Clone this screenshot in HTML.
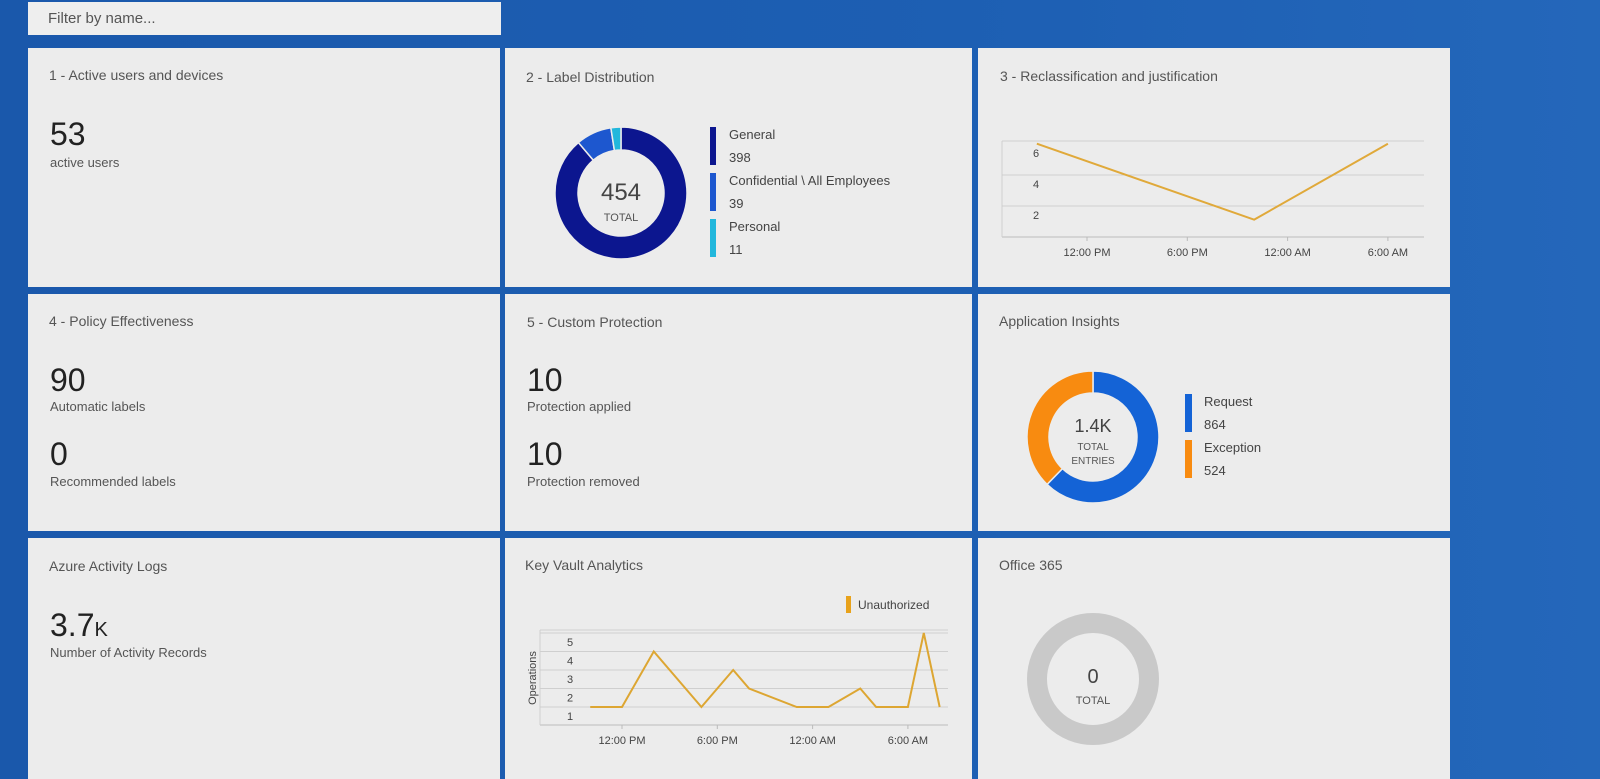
<!DOCTYPE html>
<html><head><meta charset="utf-8">
<style>
body{margin:0;width:1600px;height:779px;overflow:hidden;background:linear-gradient(90deg,#1a58ab 0%,#1d5fb3 60%,#2467ba 100%);font-family:"Liberation Sans",sans-serif;position:relative}
.tile{position:absolute;background:#ececec}
.t{position:absolute;font-size:14px;color:#555}
.big{position:absolute;font-size:32px;color:#222}
.sub{position:absolute;font-size:13px;color:#555}
svg text{font-family:"Liberation Sans",sans-serif}
</style></head><body>
<div style="position:absolute;left:28px;top:2px;width:473px;height:33px;background:#eeeeee"><span style="position:absolute;left:20px;top:8px;font-size:15px;color:#555">Filter by name...</span></div>

<div class="tile" style="left:28px;top:48px;width:472px;height:239px"></div>
<div class="tile" style="left:505px;top:48px;width:467px;height:239px"></div>
<div class="tile" style="left:978px;top:48px;width:472px;height:239px"></div>
<div class="tile" style="left:28px;top:294px;width:472px;height:237px"></div>
<div class="tile" style="left:505px;top:294px;width:467px;height:237px"></div>
<div class="tile" style="left:978px;top:294px;width:472px;height:237px"></div>
<div class="tile" style="left:28px;top:538px;width:472px;height:241px"></div>
<div class="tile" style="left:505px;top:538px;width:467px;height:241px"></div>
<div class="tile" style="left:978px;top:538px;width:472px;height:241px"></div>

<div class="t" style="left:49px;top:67px">1 - Active users and devices</div>
<div class="big" style="left:50px;top:116px">53</div>
<div class="sub" style="left:50px;top:155px">active users</div>

<div class="t" style="left:526px;top:69px">2 - Label Distribution</div>
<div class="t" style="left:1000px;top:68px">3 - Reclassification and justification</div>
<div class="t" style="left:49px;top:313px">4 - Policy Effectiveness</div>
<div class="big" style="left:50px;top:362px">90</div>
<div class="sub" style="left:50px;top:399px">Automatic labels</div>
<div class="big" style="left:50px;top:436px">0</div>
<div class="sub" style="left:50px;top:474px">Recommended labels</div>

<div class="t" style="left:527px;top:314px">5 - Custom Protection</div>
<div class="big" style="left:527px;top:362px">10</div>
<div class="sub" style="left:527px;top:399px">Protection applied</div>
<div class="big" style="left:527px;top:436px">10</div>
<div class="sub" style="left:527px;top:474px">Protection removed</div>

<div class="t" style="left:999px;top:313px">Application Insights</div>
<div class="t" style="left:49px;top:558px">Azure Activity Logs</div>
<div class="big" style="left:50px;top:607px">3.7<span style="font-size:20px">K</span></div>
<div class="sub" style="left:50px;top:645px">Number of Activity Records</div>
<div class="t" style="left:525px;top:557px">Key Vault Analytics</div>
<div class="t" style="left:999px;top:557px">Office 365</div>

<svg id="svg" width="1600" height="779" style="position:absolute;left:0;top:0" xmlns="http://www.w3.org/2000/svg"></svg>

<script>
const labelNames=["General","Confidential \\ All Employees","Personal"];
const labelValues=[398,39,11];
const labelColors=["#0c168f","#1d57cf","#22b7dc"];
const appNames=["Request","Exception"];
const appValues=[864,524];
const appColors=["#1463d6","#f88b10"];
const reclassHours=[9,22,30];
const reclassValues=[6.6,1.7,6.6];
const reclassTicks=[2,4,6];
const kvHours=[10,12,14,17,19,20,23,25,27,28,30,31,32];
const kvValues=[1,1,4,1,3,2,1,1,2,1,1,5,1];
const kvTicks=[1,2,3,4,5];
const timeTickHours=[12,18,24,30];
const timeTickLabels=["12:00 PM","6:00 PM","12:00 AM","6:00 AM"];

const svg=document.getElementById('svg');
const NS="http://www.w3.org/2000/svg";
function mk(tag,attrs,parent){const e=document.createElementNS(NS,tag);for(const k in attrs)e.setAttribute(k,attrs[k]);(parent||svg).appendChild(e);return e;}
function txt(x,y,s,size,fill,anchor){const t=mk('text',{x:x,y:y,'font-size':size,fill:fill,'text-anchor':anchor||'start'});t.textContent=s;return t;}

function donut(cx,cy,ro,ri,values,colors,name){
  const total=values.reduce((a,b)=>a+b,0);
  if(values.length===1){
    const e=mk('circle',{cx:cx,cy:cy,r:(ro+ri)/2,fill:'none',stroke:colors[0],'stroke-width':ro-ri});
    
    
    return;
  }
  let a0=0;
  values.forEach((v,i)=>{
    const a1=a0+v/total*Math.PI*2;
    const p=(a,r)=>[cx+r*Math.sin(a),cy-r*Math.cos(a)];
    const [x1,y1]=p(a0,ro),[x2,y2]=p(a1,ro),[x3,y3]=p(a1,ri),[x4,y4]=p(a0,ri);
    const lg=(a1-a0)>Math.PI?1:0;
    const e=mk('path',{d:`M${x1},${y1}A${ro},${ro} 0 ${lg} 1 ${x2},${y2}L${x3},${y3}A${ri},${ri} 0 ${lg} 0 ${x4},${y4}Z`,fill:colors[i],stroke:'#ececec','stroke-width':1.5});
    
    
    a0=a1;
  });
}

donut(621,193,66,43,labelValues,labelColors,'label-distribution');
txt(621,200,"454",24,"#444","middle");
txt(621,221,"TOTAL",11,"#555","middle");
labelNames.forEach((n,i)=>{
  const y=127+i*46;
  const b=mk('rect',{x:710,y:y,width:6,height:38,fill:labelColors[i]});
  
  
  txt(729,y+12,n,13,"#444");
  txt(729,y+35,String(labelValues[i]),13,"#444");
});

donut(1093,437,66,44,appValues,appColors,'app-insights');
txt(1093,432,"1.4K",18,"#444","middle");
txt(1093,450,"TOTAL",10,"#555","middle");
txt(1093,464,"ENTRIES",10,"#555","middle");
appNames.forEach((n,i)=>{
  const y=394+i*46;
  const b=mk('rect',{x:1185,y:y,width:7,height:38,fill:appColors[i]});
  
  
  txt(1204,y+12,n,13,"#444");
  txt(1204,y+35,String(appValues[i]),13,"#444");
});

donut(1093,679,66,46,[1],["#c9c9c9"],'office365');
txt(1093,683,"0",20,"#444","middle");
txt(1093,704,"TOTAL",11,"#555","middle");

const rx=h=>1087+(h-12)/6*100.3;
const ry=v=>246-15.5*v;
[141,175,206].forEach(y=>{const l=mk('line',{x1:1002,x2:1424,y1:y,y2:y,stroke:'#cfcfcf'});});
mk('line',{x1:1002,x2:1424,y1:237,y2:237,stroke:'#bbb'});
mk('line',{x1:1002,x2:1002,y1:141,y2:237,stroke:'#cfcfcf'});
reclassTicks.forEach(v=>txt(1036,ry(v)+4,String(v),11,"#444","middle"));
timeTickHours.forEach((h,i)=>{mk('line',{x1:rx(h),x2:rx(h),y1:237,y2:241,stroke:'#bbb'});txt(rx(h),256,timeTickLabels[i],11,"#444","middle");});
{const l=mk('polyline',{points:reclassHours.map((h,i)=>rx(h)+','+ry(reclassValues[i])).join(' '),fill:'none',stroke:'#e0a93a','stroke-width':2});
}

const kx=h=>622+(h-12)/6*95.3;
const ky=v=>707-(v-1)*18.5;
kvTicks.forEach(v=>{const l=mk('line',{x1:540,x2:948,y1:ky(v),y2:ky(v),stroke:'#cfcfcf'});txt(570,ky(v)+13,String(v),11,"#444","middle");});
mk('line',{x1:540,x2:948,y1:630,y2:630,stroke:'#cfcfcf'});
mk('line',{x1:540,x2:948,y1:725,y2:725,stroke:'#bbb'});
mk('line',{x1:540,x2:540,y1:630,y2:725,stroke:'#cfcfcf'});
timeTickHours.forEach((h,i)=>{mk('line',{x1:kx(h),x2:kx(h),y1:725,y2:729,stroke:'#bbb'});txt(kx(h),744,timeTickLabels[i],11,"#444","middle");});
{const t=txt(0,0,"Operations",11,"#444","middle");t.setAttribute('transform','translate(536,678) rotate(-90)');}
{const b=mk('rect',{x:846,y:596,width:5,height:17,fill:'#e8a21b'});
txt(858,609,"Unauthorized",12,"#444");}
{const l=mk('polyline',{points:kvHours.map((h,i)=>kx(h)+','+ky(kvValues[i])).join(' '),fill:'none',stroke:'#dda632','stroke-width':2});
}
</script>
</body></html>
